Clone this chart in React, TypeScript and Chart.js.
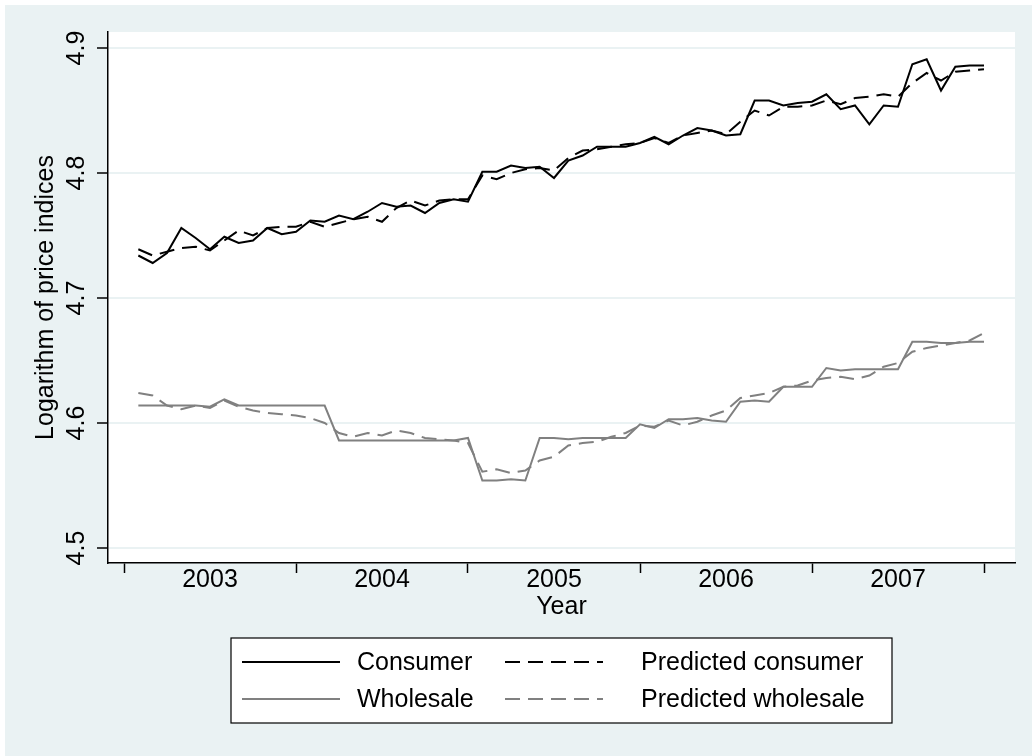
import React, { useEffect, useRef } from 'react';
import { Chart, registerables } from 'chart.js';

Chart.register(...registerables);

// ---- data (monthly, 2003m1 .. 2007m12) ----
const years = [2003, 2004, 2005, 2006, 2007];
const monthsPerYear = 12;

const consumer = [
  4.734, 4.728, 4.736, 4.756, 4.748, 4.739, 4.749, 4.744, 4.746, 4.756, 4.751, 4.753,
  4.762, 4.761, 4.766, 4.763, 4.769, 4.776, 4.773, 4.774, 4.768, 4.776, 4.779, 4.777,
  4.801, 4.801, 4.806, 4.804, 4.805, 4.796, 4.810, 4.814, 4.821, 4.821, 4.821, 4.824,
  4.829, 4.823, 4.830, 4.836, 4.834, 4.830, 4.831, 4.858, 4.858, 4.854, 4.856, 4.857,
  4.863, 4.851, 4.854, 4.839, 4.854, 4.853, 4.887, 4.891, 4.866, 4.885, 4.886, 4.886,
];

const predictedConsumer = [
  4.739, 4.734, 4.737, 4.740, 4.741, 4.738, 4.746, 4.754, 4.750, 4.756, 4.757, 4.757,
  4.761, 4.757, 4.760, 4.763, 4.765, 4.761, 4.772, 4.778, 4.774, 4.778, 4.779, 4.779,
  4.798, 4.795, 4.800, 4.803, 4.804, 4.802, 4.812, 4.818, 4.819, 4.821, 4.823, 4.824,
  4.828, 4.824, 4.830, 4.832, 4.834, 4.831, 4.841, 4.850, 4.846, 4.853, 4.853, 4.854,
  4.858, 4.855, 4.860, 4.861, 4.863, 4.861, 4.872, 4.880, 4.874, 4.881, 4.882, 4.883,
];

const wholesale = [
  4.614, 4.614, 4.614, 4.614, 4.614, 4.613, 4.619, 4.614, 4.614, 4.614, 4.614, 4.614,
  4.614, 4.614, 4.586, 4.586, 4.586, 4.586, 4.586, 4.586, 4.586, 4.586, 4.586, 4.588,
  4.554, 4.554, 4.555, 4.554, 4.588, 4.588, 4.587, 4.588, 4.588, 4.588, 4.588, 4.599,
  4.596, 4.603, 4.603, 4.604, 4.602, 4.601, 4.617, 4.618, 4.617, 4.629, 4.629, 4.629,
  4.644, 4.642, 4.643, 4.643, 4.643, 4.643, 4.665, 4.665, 4.664, 4.664, 4.665, 4.665,
];

const predictedWholesale = [
  4.624, 4.622, 4.614, 4.611, 4.614, 4.612, 4.618, 4.613, 4.610, 4.608, 4.607, 4.606,
  4.604, 4.600, 4.592, 4.589, 4.592, 4.590, 4.594, 4.592, 4.588, 4.587, 4.586, 4.584,
  4.561, 4.563, 4.560, 4.562, 4.570, 4.573, 4.582, 4.584, 4.585, 4.589, 4.592, 4.598,
  4.597, 4.602, 4.598, 4.601, 4.606, 4.610, 4.620, 4.622, 4.624, 4.629, 4.630, 4.634,
  4.636, 4.637, 4.635, 4.638, 4.645, 4.648, 4.657, 4.660, 4.662, 4.664, 4.666, 4.672,
];

const yTicks = [4.5, 4.6, 4.7, 4.8, 4.9];
const seriesNames = ['Consumer', 'Predicted consumer', 'Wholesale', 'Predicted wholesale'];
const yTitle = 'Logarithm of price indices';
const xTitle = 'Year';

// month index 1..60 (x positions on a linear time axis)
const monthIndex = years.flatMap((_, yi) =>
  Array.from({ length: monthsPerYear }, (_, mi) => yi * monthsPerYear + mi + 1)
);
// year boundaries (tick marks) and year mid-points (labels)
const yearEdges = [0, ...years.map((_, i) => (i + 1) * monthsPerYear)];
const yearMids = years.map((_, i) => i * monthsPerYear + monthsPerYear / 2);

const FONT = '"Liberation Sans", Arial, Helvetica, sans-serif';
const BG = '#eaf2f3';
const GRAY = '#808080';

const decorPlugin = {
  id: 'decor',
  beforeDraw(chart: any) {
    const { ctx, chartArea } = chart;
    ctx.save();
    ctx.fillStyle = '#ffffff';
    ctx.fillRect(0, 0, chart.width, chart.height);
    ctx.fillStyle = BG;
    ctx.fillRect(5, 5, chart.width - 5, chart.height - 5);
    ctx.fillStyle = '#ffffff';
    ctx.fillRect(chartArea.left, chartArea.top, chartArea.right - chartArea.left, chartArea.bottom - chartArea.top);
    ctx.restore();
  },
  afterDraw(chart: any) {
    const { ctx, chartArea } = chart;
    const xs = chart.scales.x;
    const ys = chart.scales.y;
    ctx.save();
    ctx.fillStyle = '#000';
    ctx.font = `25px ${FONT}`;
    ctx.textAlign = 'center';
    ctx.textBaseline = 'middle';

    // y tick labels (rotated)
    yTicks.forEach((v) => {
      ctx.save();
      ctx.translate(77, ys.getPixelForValue(v));
      ctx.rotate(-Math.PI / 2);
      ctx.fillText(v.toFixed(1), 0, 0);
      ctx.restore();
    });
    // y title
    ctx.save();
    ctx.translate(46, (chartArea.top + chartArea.bottom) / 2);
    ctx.rotate(-Math.PI / 2);
    ctx.fillText(yTitle, 0, 0);
    ctx.restore();

    // x labels
    yearMids.forEach((m, i) => {
      ctx.fillText(String(years[i]), xs.getPixelForValue(m), 580.5);
    });
    // x title
    ctx.fillText(xTitle, (chartArea.left + chartArea.right) / 2, 607);

    // legend
    const bx = 231, by = 638, bw = 661, bh = 85;
    ctx.fillStyle = '#ffffff';
    ctx.fillRect(bx, by, bw, bh);
    ctx.strokeStyle = '#000';
    ctx.lineWidth = 1.2;
    ctx.strokeRect(bx, by, bw, bh);

    const ds = chart.data.datasets;
    const cols = [
      { x0: 242, x1: 340, tx: 357 },
      { x0: 505, x1: 603, tx: 641 },
    ];
    const rows = [662, 699];
    ds.forEach((d: any, i: number) => {
      const c = cols[i % 2];
      const r = rows[Math.floor(i / 2)];
      ctx.save();
      ctx.strokeStyle = d.borderColor;
      ctx.lineWidth = d.borderWidth;
      ctx.setLineDash(d.borderDash || []);
      ctx.beginPath();
      ctx.moveTo(c.x0, r);
      ctx.lineTo(c.x1, r);
      ctx.stroke();
      ctx.restore();
      ctx.fillStyle = '#000';
      ctx.textAlign = 'left';
      ctx.textBaseline = 'middle';
      ctx.fillText(d.label, c.tx, r + 1);
    });
    ctx.restore();
  },
};

export default function App() {
  const ref = useRef<HTMLCanvasElement>(null);

  useEffect(() => {
    if (!ref.current) return;
    const dash = [15, 8];
    const chart = new Chart(ref.current, {
      type: 'line',
      data: {
        labels: monthIndex,
        datasets: [
          { label: seriesNames[0], data: consumer, borderColor: '#000', borderWidth: 2, pointRadius: 0, tension: 0 },
          { label: seriesNames[1], data: predictedConsumer, borderColor: '#000', borderWidth: 2, borderDash: dash, pointRadius: 0, tension: 0 },
          { label: seriesNames[2], data: wholesale, borderColor: GRAY, borderWidth: 2, pointRadius: 0, tension: 0 },
          { label: seriesNames[3], data: predictedWholesale, borderColor: GRAY, borderWidth: 2, borderDash: dash, pointRadius: 0, tension: 0 },
        ],
      },
      options: {
        responsive: false,
        animation: false,
        events: [],
        layout: { padding: { left: 0, top: 32, right: 17, bottom: 0 } },
        plugins: { legend: { display: false }, tooltip: { enabled: false }, title: { display: false } },
        scales: {
          x: {
            type: 'linear',
            min: -16 / (860 / 60),
            max: 60 + 31 / (860 / 60),
            afterBuildTicks: (s: any) => {
              s.ticks = [...yearEdges, ...yearMids].sort((a, b) => a - b).map((v) => ({ value: v }));
            },
            afterFit: (s: any) => { s.height = 193; },
            ticks: { display: false },
            grid: {
              drawOnChartArea: false,
              drawTicks: true,
              tickLength: 10,
              tickWidth: 1.5,
              tickColor: (c: any) => (c.tick && c.tick.value % monthsPerYear === 0 ? '#000' : 'rgba(0,0,0,0)'),
            },
            border: { display: true, color: '#000', width: 1.5 },
          },
          y: {
            type: 'linear',
            min: 4.5 - 15 / 1250,
            max: 4.9 + 16 / 1250,
            afterBuildTicks: (s: any) => {
              s.ticks = yTicks.map((v) => ({ value: v }));
            },
            afterFit: (s: any) => { s.width = 108; },
            ticks: { display: false },
            grid: {
              color: BG,
              lineWidth: 2,
              drawTicks: true,
              tickLength: 11,
              tickWidth: 1.5,
              tickColor: '#000',
            },
            border: { display: true, color: '#000', width: 1.5 },
          },
        },
      },
      plugins: [decorPlugin],
    } as any);
    return () => chart.destroy();
  }, []);

  return (
    <div style={{ position: 'fixed', left: 0, top: 0, width: 1032, height: 756 }}>
      <canvas ref={ref} width={1032} height={756} style={{ display: 'block', width: 1032, height: 756 }} />
    </div>
  );
}
